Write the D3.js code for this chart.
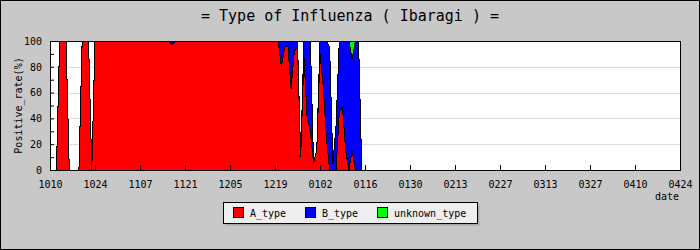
<!DOCTYPE html>
<html>
<head>
<meta charset="utf-8">
<script src="https://cdn.jsdelivr.net/npm/d3@7"></script>
<style>
  body { margin: 0; background: #fff; }
  text { font-family: "DejaVu Sans Mono", monospace; fill: #000; }
</style>
</head>
<body>
<div id="chart"></div>
<script>
// Daily positive rates (%) from 10/10, one value per day
const aType = [
  0, 0, 0, 100, 100, 100, 0, 0, 0, 0,
  100, 100, 100, 0, 100, 100, 100, 100, 100, 100,
  100, 100, 100, 100, 100, 100, 100, 100, 100, 100,
  100, 100, 100, 100, 100, 100, 100, 100, 97, 100,
  100, 100, 100, 100, 100, 100, 100, 100, 100, 100,
  100, 100, 100, 100, 100, 100, 100, 100, 100, 100,
  100, 100, 100, 100, 100, 100, 100, 100, 100, 100,
  100, 100, 80, 95, 97, 63, 92, 95, 10, 88,
  40, 30, 5, 16, 90, 65, 25, 0, 0, 0,
  45, 48, 15, 0, 15, 0, 0, 0
];
const bType = [
  0, 0, 0, 0, 0, 0, 0, 0, 0, 0,
  0, 0, 0, 0, 0, 0, 0, 0, 0, 0,
  0, 0, 0, 0, 0, 0, 0, 0, 0, 0,
  0, 0, 0, 0, 0, 0, 0, 0, 3, 0,
  0, 0, 0, 0, 0, 0, 0, 0, 0, 0,
  0, 0, 0, 0, 0, 0, 0, 0, 0, 0,
  0, 0, 0, 0, 0, 0, 0, 0, 0, 0,
  0, 0, 20, 5, 3, 37, 8, 5, 0, 12,
  60, 70, 0, 0, 10, 35, 75, 95, 5, 35,
  55, 52, 85, 100, 71, 100, 100, 0
];
const unknownType = [
  0, 0, 0, 0, 0, 0, 0, 0, 0, 0,
  0, 0, 0, 0, 0, 0, 0, 0, 0, 0,
  0, 0, 0, 0, 0, 0, 0, 0, 0, 0,
  0, 0, 0, 0, 0, 0, 0, 0, 0, 0,
  0, 0, 0, 0, 0, 0, 0, 0, 0, 0,
  0, 0, 0, 0, 0, 0, 0, 0, 0, 0,
  0, 0, 0, 0, 0, 0, 0, 0, 0, 0,
  0, 0, 0, 0, 0, 0, 0, 0, 0, 0,
  0, 0, 0, 0, 0, 0, 0, 0, 0, 0,
  0, 0, 0, 0, 14, 0, 0, 0
];
const dateLabels = ['1010', '1024', '1107', '1121', '1205', '1219', '0102', '0116',
  '0130', '0213', '0227', '0313', '0327', '0410', '0424'];
const seriesNames = ['A_type', 'B_type', 'unknown_type'];
const seriesColors = ['#ff0000', '#0000ff', '#00ff00'];

const width = 700;
const height = 250;
const margin = { left: 50, right: 20, top: 41, bottom: 80 };

const svg = d3.select('#chart')
  .append('svg')
  .attr('width', width)
  .attr('height', height);

// background + outer frame
svg.append('rect')
  .attr('x', 0.5).attr('y', 0.5)
  .attr('width', width - 1).attr('height', height - 1)
  .attr('fill', '#c8c8c8')
  .attr('stroke', '#000');

// scales
const totalDays = (dateLabels.length - 1) * 14;
const x = d3.scaleLinear().domain([0, totalDays]).range([margin.left, width - margin.right]);
const y = d3.scaleLinear().domain([0, 100]).range([height - margin.bottom, margin.top]);

// plot background
svg.append('rect')
  .attr('x', x(0)).attr('y', y(100))
  .attr('width', x(totalDays) - x(0)).attr('height', y(0) - y(100))
  .attr('fill', '#fff');

// horizontal grid
svg.append('g')
  .selectAll('line')
  .data([20, 40, 60, 80])
  .enter()
  .append('line')
  .attr('x1', x(0)).attr('x2', x(totalDays))
  .attr('y1', d => Math.round(y(d)) + 0.5).attr('y2', d => Math.round(y(d)) + 0.5)
  .attr('stroke', '#dcdcdc');

// stacked data
const rows = aType.map((a, i) => ({ day: i, A_type: a, B_type: bType[i], unknown_type: unknownType[i] }));
const stacked = d3.stack().keys(seriesNames)(rows);

const area = d3.area()
  .x(d => x(d.data.day))
  .y0(d => y(d[0]))
  .y1(d => y(d[1]));

svg.append('g')
  .selectAll('path')
  .data(stacked)
  .enter()
  .append('path')
  .attr('d', area)
  .attr('fill', (d, i) => seriesColors[i])
  .attr('stroke', '#000')
  .attr('stroke-width', 1)
  .attr('shape-rendering', 'crispEdges');

// x axis
const xAxis = d3.axisBottom(x)
  .tickValues(d3.range(0, totalDays + 1, 14))
  .tickFormat((d, i) => dateLabels[i])
  .tickSizeInner(-5)
  .tickSizeOuter(0)
  .tickPadding(11);

const gx = svg.append('g')
  .attr('transform', `translate(0,${y(0)})`)
  .call(xAxis);
gx.select('.domain').remove();
gx.selectAll('line').attr('stroke', '#000');
gx.selectAll('text').style('font-size', '10px').style('font-family', '"DejaVu Sans Mono", monospace');

// y axis
const yAxis = d3.axisLeft(y)
  .tickValues(d3.range(0, 101, 10))
  .tickFormat(d => (d % 20 === 0 ? d : ''))
  .tickSizeInner(-4)
  .tickSizeOuter(0)
  .tickPadding(8);

const gy = svg.append('g')
  .attr('transform', `translate(${x(0)},0)`)
  .call(yAxis);
gy.select('.domain').remove();
gy.selectAll('line').attr('stroke', '#000');
gy.selectAll('text').style('font-size', '10px').style('font-family', '"DejaVu Sans Mono", monospace');

// plot frame
svg.append('rect')
  .attr('x', x(0) + 0.5).attr('y', y(100) + 0.5)
  .attr('width', x(totalDays) - x(0)).attr('height', y(0) - y(100))
  .attr('fill', 'none')
  .attr('stroke', '#000');

// title
svg.append('text')
  .attr('x', width / 2)
  .attr('y', 21)
  .attr('text-anchor', 'middle')
  .style('font-size', '15px')
  .text('= Type of Influenza ( Ibaragi ) =');

// axis titles
svg.append('text')
  .attr('transform', `translate(22,${(y(0) + y(100)) / 2}) rotate(-90)`)
  .attr('text-anchor', 'middle')
  .style('font-size', '10px')
  .text('Positive_rate(%)');

svg.append('text')
  .attr('x', 679)
  .attr('y', 200)
  .attr('text-anchor', 'end')
  .style('font-size', '10px')
  .text('date');

// legend
const legend = svg.append('g');
legend.append('rect')
  .attr('x', 225.5).attr('y', 204.5)
  .attr('width', 254).attr('height', 21)
  .attr('fill', '#a8a8a8');
legend.append('rect')
  .attr('x', 223.5).attr('y', 202.5)
  .attr('width', 254).attr('height', 21)
  .attr('fill', '#eeeeee')
  .attr('stroke', '#000');

const legendX = [233, 305, 377];
seriesNames.forEach((name, i) => {
  legend.append('rect')
    .attr('x', legendX[i] + 0.5).attr('y', 207.5)
    .attr('width', 10).attr('height', 10)
    .attr('fill', seriesColors[i])
    .attr('stroke', '#000');
  legend.append('text')
    .attr('x', legendX[i] + 17)
    .attr('y', 217)
    .style('font-size', '10px')
    .text(name);
});
</script>
</body>
</html>
